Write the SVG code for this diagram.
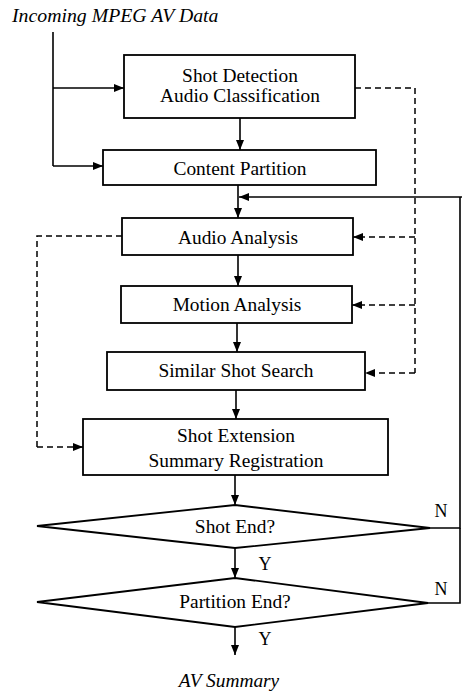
<svg xmlns="http://www.w3.org/2000/svg" width="462" height="691" viewBox="0 0 462 691">
<defs>
<marker id="ah" viewBox="0 0 10 8" refX="10" refY="4" markerWidth="10" markerHeight="8" markerUnits="userSpaceOnUse" orient="auto">
<path d="M0,0 L10,4 L0,8 z" fill="#000"/>
</marker>
</defs>
<style>
.box{fill:#fff;stroke:#000;stroke-width:1.8}
.t{font-family:"Liberation Serif","Times New Roman",serif;font-size:19.4px;fill:#000;text-anchor:middle}
.it{font-style:italic}
.l{fill:none;stroke:#000;stroke-width:1.6}
.a{fill:none;stroke:#000;stroke-width:1.6;marker-end:url(#ah)}
.d{fill:none;stroke:#000;stroke-width:1.5;stroke-dasharray:6 4}
.da{fill:none;stroke:#000;stroke-width:1.5;stroke-dasharray:6 4;marker-end:url(#ah)}
</style>
<rect width="462" height="691" fill="#fff"/>
<text class="t it" x="12" y="22" style="text-anchor:start;font-size:19.8px">Incoming MPEG AV Data</text>
<g id="connectors">
<path class="l" d="M53,32 V166"/>
<path class="a" d="M53,88 H124"/>
<path class="a" d="M53,166 H103"/>
<path class="a" d="M240,118 V150"/>
<path class="a" d="M238,185 V218"/>
<path class="a" d="M238,255 V286"/>
<path class="a" d="M237,323 V352"/>
<path class="a" d="M236,390 V419"/>
<path class="a" d="M235,475 V505"/>
<path class="a" d="M235,548 V578"/>
<path class="a" d="M235,627 V655"/>
<path class="l" d="M430,528 H460 V197"/>
<path class="l" d="M428,603 H460 V528"/>
<path class="a" d="M462,197 H239"/>
<path class="d" d="M355,88 H415 V373"/>
<path class="da" d="M415,237 H353"/>
<path class="da" d="M415,305 H352"/>
<path class="da" d="M415,373 H365"/>
<path class="d" d="M122,236 H37 V447"/>
<path class="da" d="M37,447 H83"/>
<text class="t" x="441" y="517" style="font-size:18px">N</text>
<text class="t" x="441" y="595" style="font-size:18px">N</text>
<text class="t" x="265" y="570" style="font-size:18px">Y</text>
<text class="t" x="265" y="645" style="font-size:18px">Y</text>
</g>
<g id="shot-detection">
<rect class="box" x="124" y="55" width="231" height="63"/>
<text class="t" x="240" y="82">Shot Detection</text>
<text class="t" x="240" y="102">Audio Classification</text>
</g>
<g id="content-partition">
<rect class="box" x="103" y="150" width="273" height="35"/>
<text class="t" x="240" y="175">Content Partition</text>
</g>
<g id="audio-analysis">
<rect class="box" x="122" y="218" width="231" height="37"/>
<text class="t" x="238" y="244">Audio Analysis</text>
</g>
<g id="motion-analysis">
<rect class="box" x="121" y="286" width="231" height="37"/>
<text class="t" x="237" y="311">Motion Analysis</text>
</g>
<g id="similar-shot-search">
<rect class="box" x="107" y="352" width="258" height="38"/>
<text class="t" x="236" y="377">Similar Shot Search</text>
</g>
<g id="shot-extension">
<rect class="box" x="83" y="419" width="305" height="56"/>
<text class="t" x="236" y="442">Shot Extension</text>
<text class="t" x="236" y="467">Summary Registration</text>
</g>
<g id="shot-end">
<polygon class="box" points="235,505 430,528 235,548 37,526"/>
<text class="t" x="235" y="533">Shot End?</text>
</g>
<g id="partition-end">
<polygon class="box" points="235,578 428,603 235,627 37,602"/>
<text class="t" x="235" y="608">Partition End?</text>
</g>
<text class="t it" x="229" y="687">AV Summary</text>
</svg>
